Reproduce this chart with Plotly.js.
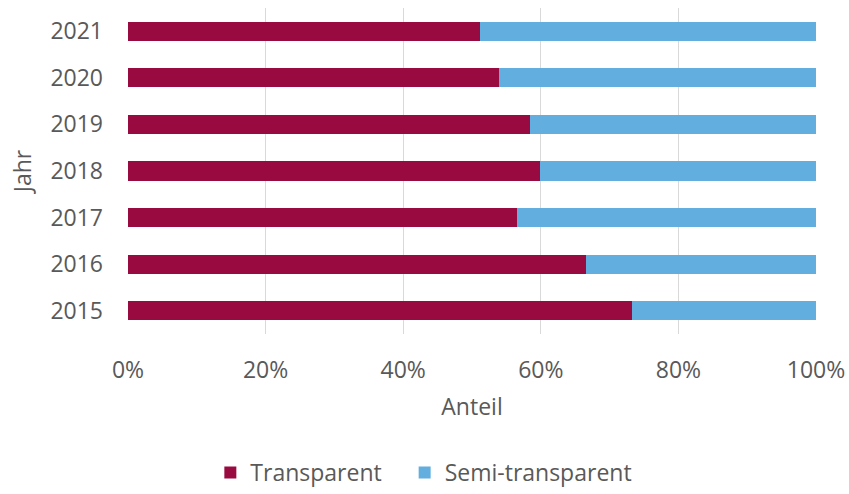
<!DOCTYPE html>
<html>
<head>
<meta charset="utf-8">
<script src="https://cdn.plot.ly/plotly-3.0.1.min.js"></script>
<style>html,body{margin:0;padding:0;background:#fff;}#chart{width:849px;height:494px;}</style>
</head>
<body>
<div id="chart"></div>
<script>
const years = ["2015", "2016", "2017", "2018", "2019", "2020", "2021"];
const transparent = [0.733, 0.666, 0.566, 0.599, 0.584, 0.539, 0.512];
const semiTransparent = transparent.map(v => 1 - v);
const xTicks = [0, 0.2, 0.4, 0.6, 0.8, 1.0];
const xTickLabels = ["0%", "20%", "40%", "60%", "80%", "100%"];
const seriesNames = ["Transparent", "Semi-transparent"];

const fontFam = "Open Sans, sans-serif";
const grey = "#595959";
const fs = 23;

const data = [
  {type: "bar", orientation: "h", name: seriesNames[0] + "\u00a0\u00a0\u00a0", y: years, x: transparent,
   marker: {color: "#990A40"}, hoverinfo: "x+y"},
  {type: "bar", orientation: "h", name: seriesNames[1], y: years, x: semiTransparent,
   marker: {color: "#62AEDE"}, hoverinfo: "x+y"}
];

const layout = {
  width: 849, height: 494,
  margin: {l: 128, r: 33, t: 8, b: 160, autoexpand: false},
  barmode: "stack",
  bargap: 0.59,
  paper_bgcolor: "#fff", plot_bgcolor: "#fff",
  font: {family: fontFam, color: grey, size: fs},
  xaxis: {
    range: [0, 1], tickvals: xTicks, ticktext: xTickLabels,
    showgrid: true, gridcolor: "#d9d9d9", gridwidth: 1, zeroline: false,
    showline: false, ticks: "", ticklen: 0,
    ticklabelstandoff: 20,
    tickfont: {size: fs, color: grey, family: fontFam},
    title: {text: "Anteil", font: {size: fs, color: grey, family: fontFam}, standoff: 14},
    fixedrange: true
  },
  yaxis: {
    type: "category", categoryorder: "array", categoryarray: years,
    showgrid: false, zeroline: false, showline: false, ticks: "",
    ticklabelstandoff: 24,
    tickfont: {size: fs, color: grey, family: fontFam},
    title: {text: "Jahr", font: {size: fs, color: grey, family: fontFam}, standoff: 12},
    fixedrange: true
  },
  legend: {
    orientation: "h", x: 0.43, xanchor: "center",
    yref: "container", y: 0, yanchor: "bottom",
    font: {size: fs, color: grey, family: fontFam},
    itemwidth: 30, traceorder: "normal", tracegroupgap: 0
  },
  showlegend: true
};

Plotly.newPlot("chart", data, layout, {displayModeBar: false, staticPlot: true});
</script>
</body>
</html>
